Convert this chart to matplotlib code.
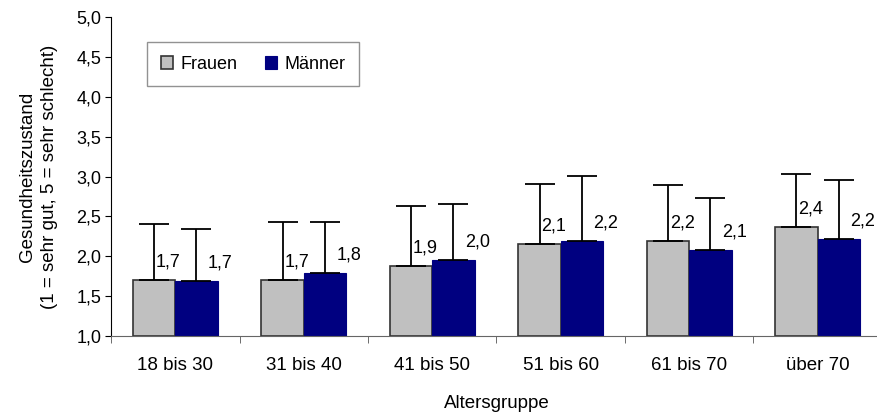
import matplotlib.pyplot as plt
import numpy as np

plt.rcParams['font.family'] = ['Liberation Sans', 'DejaVu Sans']

# Daten
gruppen = ['18 bis 30', '31 bis 40', '41 bis 50', '51 bis 60', '61 bis 70', 'über 70']
frauen = [1.70, 1.70, 1.88, 2.15, 2.19, 2.37]
maenner = [1.69, 1.79, 1.95, 2.19, 2.08, 2.22]
frauen_sd = [0.70, 0.73, 0.75, 0.76, 0.70, 0.66]
maenner_sd = [0.65, 0.64, 0.71, 0.82, 0.65, 0.74]
frauen_lbl = ['1,7', '1,7', '1,9', '2,1', '2,2', '2,4']
maenner_lbl = ['1,7', '1,8', '2,0', '2,2', '2,1', '2,2']

fig = plt.figure(figsize=(8.77, 4.17), dpi=100)
ax = fig.add_axes([0.1266, 0.194, 0.879, 0.765])

x = np.arange(len(gruppen))
w = 0.33
grau = '#C0C0C0'
blau = '#000080'

ax.bar(x - w / 2, np.array(frauen) - 1, w, bottom=1, color=grau,
       edgecolor='#333333', linewidth=1.2, label='Frauen', zorder=2)
ax.bar(x + w / 2, np.array(maenner) - 1, w, bottom=1, color=blau,
       edgecolor=blau, linewidth=0.8, label='Männer', zorder=2)

# nur obere Fehlerbalken
ax.errorbar(x - w / 2, frauen, yerr=[np.zeros(6), frauen_sd], fmt='none',
            ecolor='black', elinewidth=1.3, capsize=11, capthick=1.3, zorder=3)
ax.errorbar(x + w / 2, maenner, yerr=[np.zeros(6), maenner_sd], fmt='none',
            ecolor='black', elinewidth=1.3, capsize=11, capthick=1.3, zorder=3)

for i in range(len(gruppen)):
    ax.text(x[i] - w / 2 + 0.015, frauen[i] + 0.12, frauen_lbl[i],
            ha='left', va='bottom', fontsize=13)
    ax.text(x[i] + w / 2 + 0.09, maenner[i] + 0.12, maenner_lbl[i],
            ha='left', va='bottom', fontsize=13)

ax.set_xlim(-0.5, len(gruppen) - 0.5)
ax.set_ylim(1.0, 5.0)
yt = np.arange(1.0, 5.01, 0.5)
ax.set_yticks(yt)
ax.set_yticklabels([('%.1f' % v).replace('.', ',') for v in yt], fontsize=13)
ax.set_xticks(x)
ax.set_xticklabels(gruppen, fontsize=13.5)
ax.tick_params(axis='x', length=0, pad=15)
ax.set_xticks(np.arange(-0.5, len(gruppen), 1.0), minor=True)
ax.tick_params(axis='x', which='minor', length=5, color='#555555', direction='out')
ax.tick_params(axis='y', length=4, color='black', direction='out', pad=3)

for s in ['top', 'right']:
    ax.spines[s].set_visible(False)
ax.spines['left'].set_color('black')
ax.spines['bottom'].set_color('#666666')

ax.set_xlabel('Altersgruppe', fontsize=13.5, labelpad=15)
ax.set_ylabel('Gesundheitszustand\n(1 = sehr gut, 5 = sehr schlecht)',
              fontsize=13.5, labelpad=13, linespacing=1.4)

leg = ax.legend(loc='upper left', bbox_to_anchor=(0.047, 0.922), ncol=2,
                fontsize=13, frameon=True, fancybox=False, handlelength=0.7,
                handleheight=0.7, handletextpad=0.4, columnspacing=1.5,
                borderpad=0.75, borderaxespad=0)
leg.get_frame().set_edgecolor('#777777')
leg.get_frame().set_linewidth(1.0)

plt.savefig('out.png', dpi=100)
